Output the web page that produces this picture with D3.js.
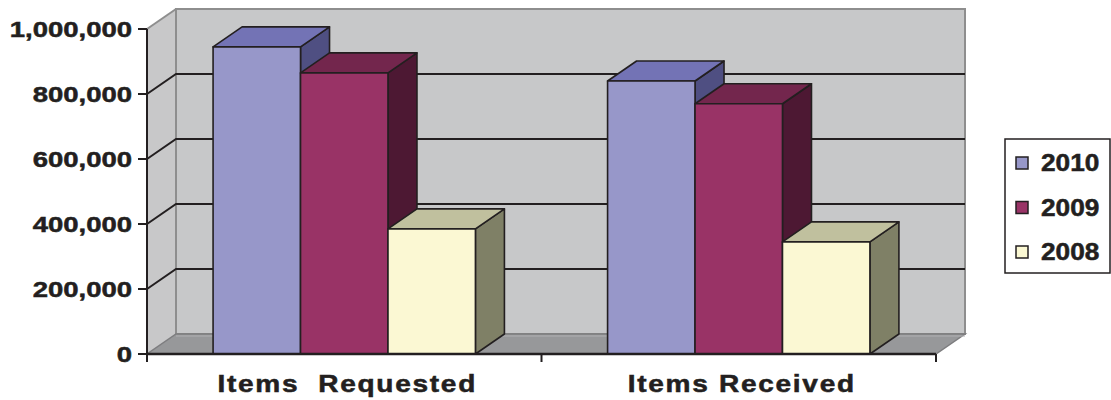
<!DOCTYPE html>
<html>
<head>
<meta charset="utf-8">
<script src="https://cdn.jsdelivr.net/npm/d3@7"></script>
<style>
  body { margin: 0; background: #fff; }
  svg text { font-family: "Liberation Sans", Arial, sans-serif; font-weight: bold; fill: #231f20;
             stroke: #231f20; stroke-width: 0.5px; }
</style>
</head>
<body>
<div id="chart"></div>
<script>
// data
const categories = ["Items  Requested", "Items Received"];
const series = ["2010", "2009", "2008"];
const values2010 = [945000, 840000];
const values2009 = [865000, 770000];
const values2008 = [385000, 345000];
const yTicks = [0, 200000, 400000, 600000, 800000, 1000000];

const seriesValues = { "2010": values2010, "2009": values2009, "2008": values2008 };

const colors = {
    "2010": { front: "#9797c9", top: "#7373b5", side: "#4f4f82" },
    "2009": { front: "#993366", top: "#73264d", side: "#4d1833" },
    "2008": { front: "#fbf8d3", top: "#c0c09e", side: "#7f8066" }
};

const width = 1111, height = 400;
const dx = 29, dy = -20;   // 3d depth offset

const svg = d3.select("#chart").append("svg")
    .attr("width", width)
    .attr("height", height);

const y = d3.scaleLinear().domain([0, 1000000]).range([354, 29]);

const x = d3.scaleBand()
    .domain(categories)
    .range([147, 936])
    .paddingInner(0.335)
    .paddingOuter(0.1675);

const xs = d3.scaleBand().domain(series).range([0, x.bandwidth()]);

const x0 = x.range()[0], x1 = x.range()[1];
const yTop = y(1000000), yBase = y(0);

// walls + floor
const line = d3.line();
svg.append("path") // side wall
    .attr("d", line([[x0, yBase], [x0, yTop], [x0 + dx, yTop + dy], [x0 + dx, yBase + dy]]) + "Z")
    .attr("fill", "#c8c8c9");
svg.append("rect") // back wall
    .attr("x", x0 + dx).attr("y", yTop + dy)
    .attr("width", x1 - x0).attr("height", yBase - yTop)
    .attr("fill", "#c7c8c9")
    .attr("stroke", "#8e8e8e").attr("stroke-width", 2);
svg.append("path") // floor
    .attr("d", line([[x0, yBase], [x1, yBase], [x1 + dx, yBase + dy], [x0 + dx, yBase + dy]]) + "Z")
    .attr("fill", "#97989a")
    .attr("stroke", "#7d7d7f").attr("stroke-width", 1.5);
svg.append("line")
    .attr("x1", x0 + dx).attr("x2", x1 + dx)
    .attr("y1", yBase + dy + 2).attr("y2", yBase + dy + 2)
    .attr("stroke", "#b0b0b2").attr("stroke-width", 1);
svg.append("path") // top edge of side wall
    .attr("d", line([[x0, yTop], [x0 + dx, yTop + dy]]))
    .attr("stroke", "#8e8e8e").attr("stroke-width", 2).attr("fill", "none");

// gridlines
const grid = yTicks.filter(t => t > 0 && t < 1000000);
svg.selectAll(".grid").data(grid).enter().append("path")
    .attr("class", "grid")
    .attr("d", t => line([[x0, y(t)], [x0 + dx, y(t) + dy], [x1 + dx, y(t) + dy]]))
    .attr("fill", "none")
    .attr("stroke", "#231f20")
    .attr("stroke-width", 2);

// bars
categories.forEach((cat, ci) => {
    series.forEach(s => {
        const v = seriesValues[s][ci];
        const bx = x(cat) + xs(s);
        const bw = xs.bandwidth();
        const yt = y(v);
        const g = svg.append("g")
            .attr("stroke", "#231f20")
            .attr("stroke-width", 1.6)
            .attr("stroke-linejoin", "round");
        g.append("path")
            .attr("d", line([[bx + bw, yt], [bx + bw + dx, yt + dy], [bx + bw + dx, yBase + dy], [bx + bw, yBase]]) + "Z")
            .attr("fill", colors[s].side);
        g.append("path")
            .attr("d", line([[bx, yt], [bx + dx, yt + dy], [bx + bw + dx, yt + dy], [bx + bw, yt]]) + "Z")
            .attr("fill", colors[s].top);
        g.append("rect")
            .attr("x", bx).attr("y", yt)
            .attr("width", bw).attr("height", yBase - yt)
            .attr("fill", colors[s].front);
    });
});

// value axis
svg.append("line")
    .attr("x1", x0).attr("x2", x0).attr("y1", yTop).attr("y2", yBase)
    .attr("stroke", "#231f20").attr("stroke-width", 2);
svg.selectAll(".ytick").data(yTicks).enter().append("line")
    .attr("x1", x0 - 9).attr("x2", x0)
    .attr("y1", d => y(d)).attr("y2", d => y(d))
    .attr("stroke", "#231f20").attr("stroke-width", 2);
svg.selectAll(".ylab").data(yTicks).enter().append("text")
    .attr("transform", d => `translate(132,${y(d)}) scale(1.25,1)`)
    .attr("text-anchor", "end")
    .attr("dy", "0.36em")
    .style("font-size", "22px")
    .text(d => d3.format(",")(d));

// category axis
svg.append("line")
    .attr("x1", x0).attr("x2", x1).attr("y1", yBase).attr("y2", yBase)
    .attr("stroke", "#231f20").attr("stroke-width", 2.5);
const catTicks = [x0, x0 + x.step(), x1];
svg.selectAll(".xtick").data(catTicks).enter().append("line")
    .attr("x1", d => d).attr("x2", d => d)
    .attr("y1", yBase).attr("y2", yBase + 8)
    .attr("stroke", "#231f20").attr("stroke-width", 2);
svg.selectAll(".xlab").data(categories).enter().append("text")
    .attr("transform", d => `translate(${x(d) + x.bandwidth() / 2 + 3},392) scale(1.22,1)`)
    .attr("text-anchor", "middle")
    .style("font-size", "23px")
    .style("letter-spacing", "1.4px")
    .style("white-space", "pre")
    .text(d => d);

// legend
const legend = svg.append("g");
legend.append("rect")
    .attr("x", 1005).attr("y", 139)
    .attr("width", 105).attr("height", 134)
    .attr("fill", "#fff")
    .attr("stroke", "#231f20").attr("stroke-width", 1.5);
const ly = d3.scalePoint().domain(series).range([163, 252]);
series.forEach(s => {
    legend.append("rect")
        .attr("x", 1016).attr("y", ly(s) - 6)
        .attr("width", 12).attr("height", 12)
        .attr("fill", colors[s].front)
        .attr("stroke", "#231f20").attr("stroke-width", 1.5);
    legend.append("text")
        .attr("transform", `translate(1041,${ly(s)}) scale(1.14,1)`)
        .attr("dy", "0.36em")
        .style("font-size", "23px")
        .text(s);
});
</script>
</body>
</html>
